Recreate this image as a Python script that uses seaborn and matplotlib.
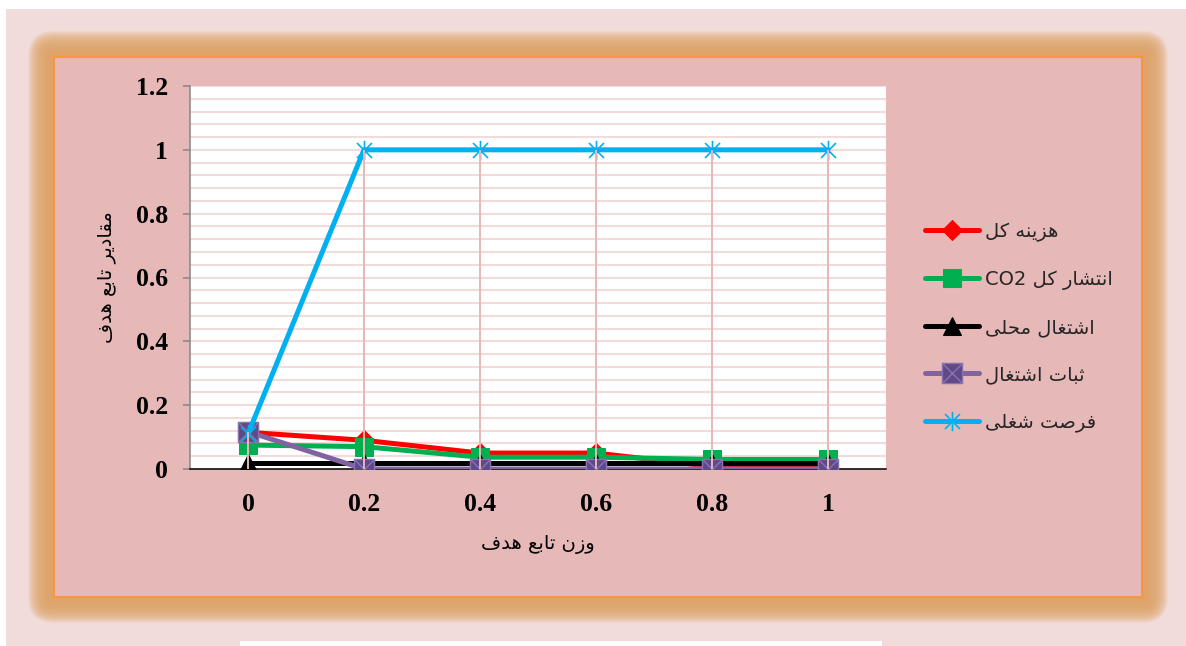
import re
import numpy as np
import pandas as pd
import matplotlib
matplotlib.use("Agg")
import matplotlib.pyplot as plt
import seaborn as sns
from matplotlib.patches import Rectangle, FancyBboxPatch
from matplotlib.path import Path
from matplotlib.ticker import MultipleLocator
from matplotlib.transforms import IdentityTransform

# data
weights = ["0", "0.2", "0.4", "0.6", "0.8", "1"]
total_cost = [0.115, 0.09, 0.05, 0.05, 0.008, 0.008]
total_co2 = [0.075, 0.07, 0.037, 0.037, 0.03, 0.03]
local_jobs = [0.02, 0.02, 0.02, 0.02, 0.02, 0.02]
job_stability = [0.117, 0.0, 0.0, 0.0, 0.0, 0.0]
job_opportunity = [0.11, 1.0, 1.0, 1.0, 1.0, 1.0]

series_names = ["هزینه کل", "انتشار کل CO2", "اشتغال محلی", "ثبات اشتغال", "فرصت شغلی"]
x_title = "وزن تابع هدف"
y_title = "مقادیر تابع هدف"

# --- tiny Persian shaper (matplotlib has no bidi / joining) ---
FORMS = {
    'ا': (0xFE8D, 0xFE8E, None, None),
    'ب': (0xFE8F, 0xFE90, 0xFE91, 0xFE92),
    'ت': (0xFE95, 0xFE96, 0xFE97, 0xFE98),
    'ث': (0xFE99, 0xFE9A, 0xFE9B, 0xFE9C),
    'ح': (0xFEA1, 0xFEA2, 0xFEA3, 0xFEA4),
    'د': (0xFEA9, 0xFEAA, None, None),
    'ر': (0xFEAD, 0xFEAE, None, None),
    'ز': (0xFEAF, 0xFEB0, None, None),
    'ش': (0xFEB5, 0xFEB6, 0xFEB7, 0xFEB8),
    'ص': (0xFEB9, 0xFEBA, 0xFEBB, 0xFEBC),
    'ع': (0xFEC9, 0xFECA, 0xFECB, 0xFECC),
    'غ': (0xFECD, 0xFECE, 0xFECF, 0xFED0),
    'ف': (0xFED1, 0xFED2, 0xFED3, 0xFED4),
    'ق': (0xFED5, 0xFED6, 0xFED7, 0xFED8),
    'ل': (0xFEDD, 0xFEDE, 0xFEDF, 0xFEE0),
    'م': (0xFEE1, 0xFEE2, 0xFEE3, 0xFEE4),
    'ن': (0xFEE5, 0xFEE6, 0xFEE7, 0xFEE8),
    'ه': (0xFEE9, 0xFEEA, 0xFEEB, 0xFEEC),
    'و': (0xFEED, 0xFEEE, None, None),
    'ی': (0xFEEF, 0xFEF0, 0xFEF3, 0xFEF4),
    'ک': (0xFED9, 0xFEDA, 0xFEDB, 0xFEDC),
}


def fa(text):
    out = []
    for i, c in enumerate(text):
        if c not in FORMS:
            out.append(c)
            continue
        prev = text[i - 1] if i > 0 else None
        nxt = text[i + 1] if i + 1 < len(text) else None
        jp = prev in FORMS and FORMS[prev][2] is not None
        jn = nxt in FORMS and FORMS[c][2] is not None
        iso, fin, ini, med = FORMS[c]
        if jp and jn:
            g = med
        elif jp:
            g = fin
        elif jn:
            g = ini
        else:
            g = iso
        out.append(chr(g))
    s = ''.join(out)[::-1]
    return re.sub(r'[A-Za-z0-9.]+', lambda m: m.group(0)[::-1], s)


sns.set_theme(style="white")
plt.rcParams['font.family'] = ['DejaVu Sans']

W, H = 1186, 646
fig = plt.figure(figsize=(W / 100, H / 100), dpi=100, facecolor="white")


def px_rect(x0, y0, x1, y1, **kw):
    return Rectangle((x0, H - y1), x1 - x0, y1 - y0, transform=IdentityTransform(), **kw)


# page background and glowing frame
fig.add_artist(px_rect(6, 9, W, H, facecolor="#f2dcdb", edgecolor="none", zorder=-10))
fig.add_artist(px_rect(240, 641, 882, H, facecolor="white", edgecolor="none", zorder=-9))
fx0, fy0, fx1, fy1 = 54, 57, 1142, 597
for k in range(26, 0, -1):
    fig.add_artist(FancyBboxPatch((fx0, H - fy1), fx1 - fx0, fy1 - fy0,
                                  boxstyle=f"round,pad={k},rounding_size={k}",
                                  transform=IdentityTransform(), facecolor="#dea468",
                                  edgecolor="none", alpha=0.12, zorder=-8))
fig.add_artist(px_rect(fx0, fy0, fx1, fy1, facecolor="#e6b8b7", edgecolor="#f79646",
                       linewidth=1.5, zorder=-7))

ax = fig.add_axes([190 / W, (H - 469) / H, 696 / W, 383 / H])
ax.set_facecolor("white")

df = pd.DataFrame({"w": weights, "cost": total_cost, "co2": total_co2,
                   "local": local_jobs, "stab": job_stability, "opp": job_opportunity})

star = Path([(-1, -1), (1, 1), (-1, 1), (1, -1), (0, -1.3), (0, 1.3)],
            [Path.MOVETO, Path.LINETO] * 3)
xbox = Path([(-1, -1), (1, -1), (1, 1), (-1, 1), (-1, -1),
             (-1, -1), (1, 1), (-1, 1), (1, -1)],
            [Path.MOVETO, Path.LINETO, Path.LINETO, Path.LINETO, Path.CLOSEPOLY,
             Path.MOVETO, Path.LINETO, Path.MOVETO, Path.LINETO])

lw = 3.6
sns.lineplot(data=df, x="w", y="cost", sort=False, ax=ax, color="#ff0000", lw=lw,
             marker="D", markersize=10, markeredgecolor="#ff0000", label=fa(series_names[0]), zorder=3)
sns.lineplot(data=df, x="w", y="co2", sort=False, ax=ax, color="#00b050", lw=lw,
             marker="s", markersize=13.5, markeredgecolor="#00b050", label=fa(series_names[1]), zorder=4)
sns.lineplot(data=df, x="w", y="local", sort=False, ax=ax, color="black", lw=lw,
             marker="^", markersize=13, markeredgecolor="black", label=fa(series_names[2]), zorder=5)
sns.lineplot(data=df, x="w", y="stab", sort=False, ax=ax, color="#8064a2", lw=lw,
             marker=xbox, markersize=14.5, markerfacecolor="#5f4a87", markeredgecolor="#8a72b0",
             markeredgewidth=1.0, label=fa(series_names[3]), zorder=6)
sns.lineplot(data=df, x="w", y="opp", sort=False, ax=ax, color="#00b0f0", lw=lw,
             marker=star, markersize=14, markeredgecolor="#00b0f0", markeredgewidth=1.2,
             fillstyle="none", label=fa(series_names[4]), zorder=7)

# drop lines from the highest point of each category
tops = df[["cost", "co2", "local", "stab", "opp"]].max(axis=1).values
ax.vlines(weights, 0, tops, color="#e6b8b7", lw=1.4, zorder=10)

ax.set_xlim(-0.5, 5.5)
ax.set_ylim(0, 1.2)
ax.yaxis.set_major_locator(MultipleLocator(0.2))
ax.yaxis.set_minor_locator(MultipleLocator(0.04))
ax.yaxis.grid(True, which="both", color="#f2dcdb", lw=1.5, zorder=0)
ax.xaxis.grid(False)
ax.set_axisbelow(True)
ax.set_yticks([0, 0.2, 0.4, 0.6, 0.8, 1.0, 1.2])
ax.set_yticklabels(["0", "0.2", "0.4", "0.6", "0.8", "1", "1.2"])

for s in ["top", "right"]:
    ax.spines[s].set_visible(False)
ax.spines["left"].set_color("#868686")
ax.spines["left"].set_linewidth(1.1)
ax.spines["bottom"].set_color("black")
ax.spines["bottom"].set_linewidth(1.1)

ax.tick_params(axis="y", which="major", left=True, length=5, width=1.1, color="#868686", pad=11)
ax.tick_params(axis="y", which="minor", left=False)
ax.tick_params(axis="x", bottom=False, length=0, pad=17)
for lab in ax.get_xticklabels() + ax.get_yticklabels():
    lab.set_fontfamily("Liberation Serif")
    lab.set_fontweight("bold")
    lab.set_fontsize(18.5)
    lab.set_color("black")

ax.set_xlabel(fa(x_title), fontsize=14, color="black")
ax.set_ylabel(fa(y_title), fontsize=14, color="black")
ax.xaxis.set_label_coords(0.5, -0.172)
ax.yaxis.set_label_coords(-0.106, 0.5)

handles, labels = ax.get_legend_handles_labels()
ax.get_legend().remove()
fig.legend(handles, labels, loc="center left", bbox_to_anchor=(925 / W, (H - 327) / H),
           frameon=False, fontsize=14, handlelength=2.8, handletextpad=0.3,
           labelspacing=1.45, borderpad=0, borderaxespad=0)

fig.savefig("out.png", dpi=100)
